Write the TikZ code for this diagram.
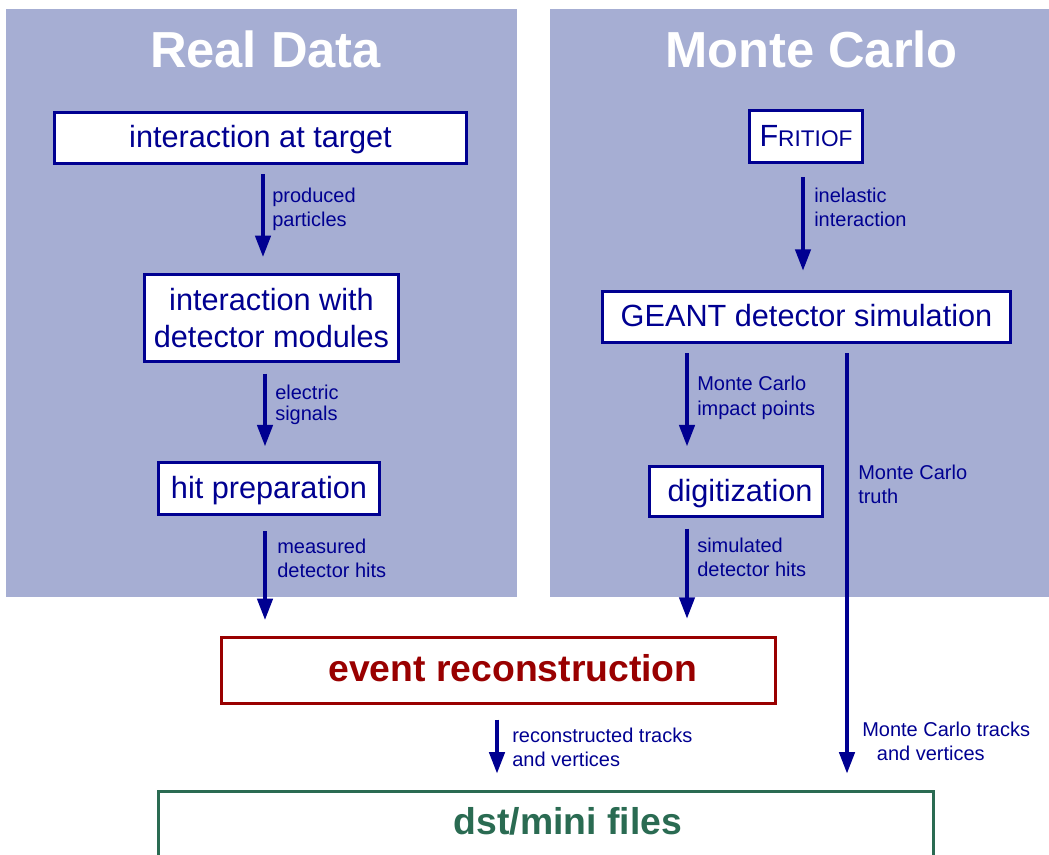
\documentclass[tikz,border=0pt]{standalone}
\usepackage{fontspec}
\setmainfont{Liberation Sans}
\usetikzlibrary{arrows.meta}
\definecolor{navy}{HTML}{000091}
\definecolor{panel}{HTML}{A6AED3}
\definecolor{darkred}{HTML}{990000}
\definecolor{dstgreen}{HTML}{2A6B52}

\begin{document}
\begin{tikzpicture}[x=0.75pt,y=-0.75pt,
  box/.style={draw=navy, line width=2.3pt, fill=white, text=navy, inner sep=0pt,
    align=center, font=\fontsize{23}{27.75}\selectfont},
  oneline/.style={text height=17pt, text depth=2.4pt},
  bigbox/.style={box, font=\fontsize{28}{30}\selectfont\bfseries, text height=20pt},
  flow/.style={draw=navy, line width=2.6pt, -{Triangle[length=16pt,width=11.5pt]},
    shorten <=8pt, shorten >=12pt},
  lbl/.style={anchor=base west, inner sep=0pt, text=navy, align=left,
    font=\fontsize{15}{18}\selectfont},
  title/.style={anchor=base, text=white, font=\fontsize{38}{40}\selectfont\bfseries}]
\useasboundingbox (0,0) rectangle (1049,855);
% the two panels
\fill[panel] (6,9) rectangle (517,597);
\fill[panel] (550,9) rectangle (1049,597);
\node[title] (rdtitle) at (265.5,68) {Real Data};
\node[title] (mctitle) at (811.5,68) {Monte Carlo};
% real data chain
\node[box, oneline, minimum width=309pt, minimum height=38.25pt] (target) at (260.5,138) {interaction at target};
\node[box, minimum width=190.5pt, minimum height=65.25pt] (detmod) at (271.5,318) {interaction with\\detector modules};
\node[box, oneline, minimum width=165.75pt, minimum height=39pt] (hitprep) at (269,488.5) {hit preparation};
% monte carlo chain
\node[box, oneline, minimum width=84.75pt, minimum height=39pt] (fritiof) at (806,136.5) {F{\fontsize{17}{20}\selectfont RITIOF}};
\node[box, oneline, minimum width=306pt, minimum height=38.25pt] (geant) at (806.5,317) {GEANT detector simulation};
\node[box, oneline, minimum width=129.75pt, minimum height=37.5pt] (digit) at (736,491.5) {\hspace*{6pt}digitization};
% common part
\node[bigbox, draw=darkred, text=darkred, text depth=4.2pt,
  minimum width=415.5pt, minimum height=49.5pt] (evreco) at (498.5,670.5) {\hspace*{21.75pt}event reconstruction};
\node[bigbox, draw=dstgreen, text=dstgreen, text depth=8.75pt,
  minimum width=581.25pt, minimum height=54pt, anchor=north] (dst) at (546,789.5) {\hspace*{33pt}dst/mini files};
% arrows
\draw[flow, shorten <=7pt] (target.south -| 263,0) -- (detmod.north -| 263,0);
\draw[flow, shorten >=11pt] (detmod.south -| 265,0) -- (hitprep.north -| 265,0);
\draw[flow, shorten <=11.5pt] (hitprep.south -| 265,0) -- (evreco.north -| 265,0);
\draw[flow, shorten <=9.75pt, shorten >=14.5pt] (fritiof.south -| 803,0) -- (geant.north -| 803,0);
\draw[flow, shorten <=7pt, shorten >=14pt] (geant.south -| 687,0) -- (digit.north -| 687,0);
\draw[flow, shorten >=13pt] (digit.south -| 687,0) -- (evreco.north -| 687,0);
\draw[flow, shorten <=7pt] (geant.south -| 847,0) -- (dst.north -| 847,0);
\draw[flow, shorten <=11pt] (evreco.south -| 497,0) -- (dst.north -| 497,0);
% arrow labels (placed by the baseline of their last line)
\node[lbl] (lprod) at (272,226.5) {produced\\particles};
\node[lbl, font=\fontsize{15}{16}\selectfont] (lelec) at (275,421) {electric\\signals};
\node[lbl] (lmeas) at (277,577.5) {measured\\detector hits};
\node[lbl] (linel) at (814,226.5) {inelastic\\interaction};
\node[lbl, font=\fontsize{15}{18.75}\selectfont] (limp) at (697,416) {Monte Carlo\\impact points};
\node[lbl] (ltruth) at (858,503.5) {Monte Carlo\\truth};
\node[lbl] (lsim) at (697,576.5) {simulated\\detector hits};
\node[lbl] (lreco) at (512,766) {reconstructed tracks\\and vertices};
\node[lbl] (lmctr) at (862,760.5) {Monte Carlo tracks\\\hspace*{11pt}and vertices};
\end{tikzpicture}
\end{document}
